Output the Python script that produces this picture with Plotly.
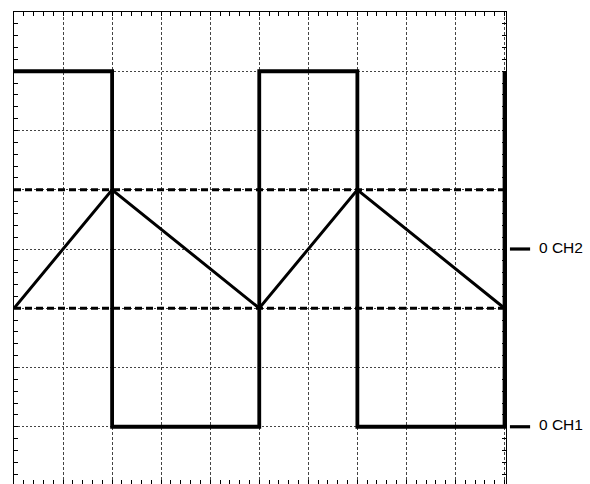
import plotly.graph_objects as go

# Screen divisions: 10 horizontal, 8 vertical (centre of screen = 0)
# CH1: square wave, ground marker at -3 div
ch1_t = [0, 2, 2, 5, 5, 7, 7, 10, 10]
ch1_v = [3, 3, -3, -3, 3, 3, -3, -3, 3]

# CH2: triangle wave, ground marker at 0 div
ch2_t = [0, 2, 5, 7, 10]
ch2_v = [-1, 1, -1, 1, -1]

# Peak levels of the triangle wave
peak_levels = [1, -1]

# Ground reference markers on the right edge
ground_labels = ["0 CH2", "0 CH1"]
ground_levels = [0, -3]

X_RANGE = [0, 10.03]
Y_RANGE = [-3.966, 4]

fig = go.Figure()

for lvl in peak_levels:
    fig.add_trace(go.Scatter(
        x=[0, 10], y=[lvl, lvl], mode="lines",
        line=dict(color="black", width=2.8, dash="7px,4px"),
        hoverinfo="skip", showlegend=False,
    ))

fig.add_trace(go.Scatter(
    x=ch2_t, y=ch2_v, mode="lines",
    line=dict(color="black", width=3),
    showlegend=False,
))

fig.add_trace(go.Scatter(
    x=ch1_t, y=ch1_v, mode="lines",
    line=dict(color="black", width=3.8),
    showlegend=False,
))

for lab, lvl in zip(ground_labels, ground_levels):
    fig.add_shape(type="line", xref="paper", yref="y",
                  x0=1.008, x1=1.049, y0=lvl, y1=lvl,
                  line=dict(color="black", width=3.2))
    fig.add_annotation(x=1.063, y=lvl, xref="paper", yref="y",
                       text=lab, showarrow=False, xanchor="left",
                       yanchor="middle", yshift=2,
                       font=dict(family="Liberation Sans, Arial", size=15.5,
                                 color="black"))

axis_common = dict(
    showline=True, linecolor="black", linewidth=1, mirror="allticks",
    showticklabels=False, zeroline=False,
    ticks="inside", ticklen=4, tickcolor="black", tickwidth=1,
    tick0=0, dtick=1,
    showgrid=True, gridcolor="#444444", gridwidth=1,
    minor=dict(ticks="inside", ticklen=4, tickcolor="black", tickwidth=1,
               tick0=0, dtick=0.2, showgrid=False),
)

fig.update_xaxes(range=X_RANGE, griddash="3px,2px", **axis_common)
fig.update_yaxes(range=Y_RANGE, griddash="2px,2px", **axis_common)

fig.update_layout(
    width=590, height=484,
    margin=dict(l=14, r=84, t=12, b=0),
    plot_bgcolor="white", paper_bgcolor="white",
)

fig.write_html("out.html")
